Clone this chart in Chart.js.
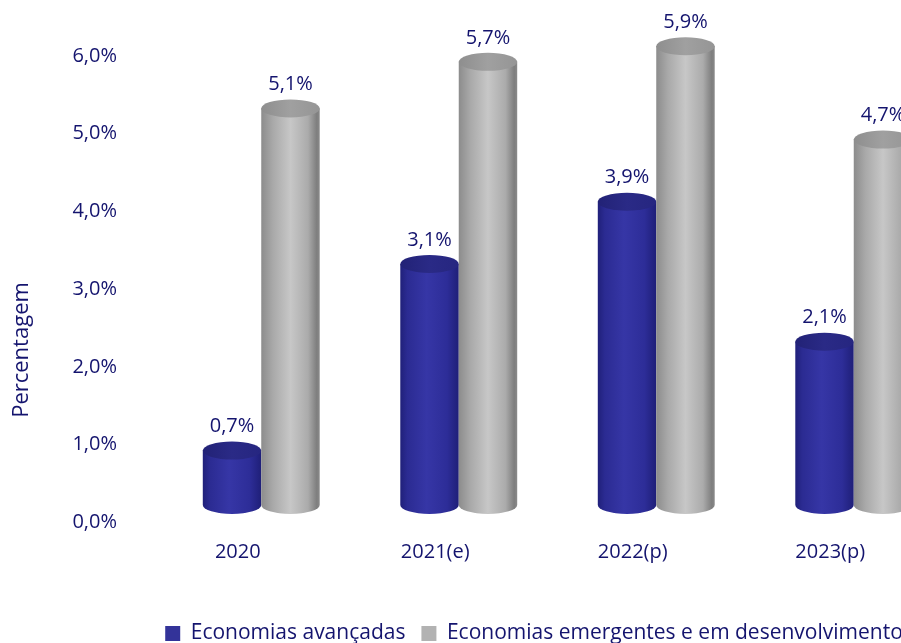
<!DOCTYPE html>
<html lang="pt">
<head>
  <meta charset="UTF-8">
  <title>Crescimento das economias</title>
  <script src="https://cdn.jsdelivr.net/npm/chart.js"></script>
  <style>
    html, body { margin: 0; padding: 0; overflow: hidden; background: #fff; }
    #wrap { width: 1077px; height: 660px; }
  </style>
</head>
<body>
  <div id="wrap"><canvas id="chart"></canvas></div>

  <script>
    const anos = ['2020', '2021(e)', '2022(p)', '2023(p)'];
    const avancadas = [0.7, 3.1, 3.9, 2.1];
    const emergentes = [5.1, 5.7, 5.9, 4.7];
    const ticksY = ['0,0%', '1,0%', '2,0%', '3,0%', '4,0%', '5,0%', '6,0%'];
    const tituloY = 'Percentagem';

    const AZUL_TEXTO = '#14146e';
    const FONTE = "'Open Sans', sans-serif";
    // deslocamento do efeito 3D
    const DX = 23.5, DY = -17.5, RY = 9;

    const pct = v => v.toFixed(1).replace('.', ',') + '%';

    function cilindro(ctx, cx, topo, base, rx, cores) {
      const g = ctx.createLinearGradient(cx - rx, 0, cx + rx, 0);
      cores.corpo.forEach(([s, c]) => g.addColorStop(s, c));
      ctx.beginPath();
      ctx.moveTo(cx - rx, topo);
      ctx.lineTo(cx - rx, base);
      ctx.ellipse(cx, base, rx, RY, 0, Math.PI, 0, true);
      ctx.lineTo(cx + rx, topo);
      ctx.closePath();
      ctx.fillStyle = g;
      ctx.fill();

      const gt = ctx.createLinearGradient(cx - rx, 0, cx + rx, 0);
      cores.topo.forEach(([s, c]) => gt.addColorStop(s, c));
      ctx.beginPath();
      ctx.ellipse(cx, topo, rx, RY, 0, 0, Math.PI * 2);
      ctx.fillStyle = gt;
      ctx.fill();
    }

    const estilos = [
      {
        corpo: [[0, '#20207a'], [0.12, '#2b2b92'], [0.45, '#3636a6'], [0.8, '#2d2d98'], [1, '#1f1f78']],
        topo: [[0, '#222276'], [0.5, '#2a2a86'], [1, '#262680']]
      },
      {
        corpo: [[0, '#8c8c8c'], [0.2, '#a9a9a9'], [0.5, '#c7c7c7'], [0.8, '#ababab'], [0.95, '#7e7e7e'], [1, '#8a8a8a']],
        topo: [[0, '#8e8e8e'], [0.5, '#a0a0a0'], [1, '#959595']]
      }
    ];

    const cilindros = {
      id: 'cilindros',
      beforeDatasetDraw() { return false; },
      afterDatasetsDraw(chart) {
        const ctx = chart.ctx;
        ctx.save();
        chart.data.datasets.forEach((ds, i) => {
          chart.getDatasetMeta(i).data.forEach(bar => {
            cilindro(ctx, bar.x + DX, bar.y + DY, bar.base + DY, bar.width / 2, estilos[i]);
          });
        });
        ctx.fillStyle = AZUL_TEXTO;
        ctx.font = '20px ' + FONTE;
        ctx.textAlign = 'center';
        ctx.textBaseline = 'middle';
        chart.data.datasets.forEach((ds, i) => {
          chart.getDatasetMeta(i).data.forEach((bar, j) => {
            ctx.fillText(pct(ds.data[j]), bar.x + DX, bar.y + DY - 24);
          });
        });
        // titulo do eixo y
        ctx.translate(22, 350);
        ctx.rotate(-Math.PI / 2);
        ctx.font = '22px ' + FONTE;
        ctx.fillText(tituloY, 0, 0);
        ctx.restore();
      }
    };

    new Chart(document.getElementById('chart'), {
      type: 'bar',
      data: {
        labels: anos,
        datasets: [
          { label: 'Economias avançadas', data: avancadas, backgroundColor: '#333399' },
          { label: 'Economias emergentes e em desenvolvimento', data: emergentes, backgroundColor: '#b2b2b2' }
        ]
      },
      options: {
        responsive: true,
        maintainAspectRatio: false,
        animation: false,
        categoryPercentage: 0.592,
        barPercentage: 1,
        layout: { padding: { top: 56, right: 148, left: 0, bottom: 6 } },
        plugins: {
          legend: {
            position: 'bottom',
            fullSize: false,
            labels: {
              boxWidth: 15, boxHeight: 15, padding: 16,
              color: AZUL_TEXTO,
              font: { family: FONTE, size: 21 }
            }
          },
          tooltip: { enabled: false }
        },
        scales: {
          x: {
            grid: { display: false, drawTicks: false },
            border: { display: false },
            ticks: { color: AZUL_TEXTO, padding: 18, font: { family: FONTE, size: 20 } },
            afterFit: s => { s.height = 84.5; }
          },
          y: {
            min: 0, max: 6,
            grid: { display: false, drawTicks: false },
            border: { display: false },
            ticks: {
              stepSize: 1, padding: 22, color: AZUL_TEXTO,
              font: { family: FONTE, size: 20 },
              callback: (v, i) => ticksY[i]
            },
            afterFit: s => { s.width = 139; }
          }
        }
      },
      plugins: [cilindros]
    });
  </script>
</body>
</html>
